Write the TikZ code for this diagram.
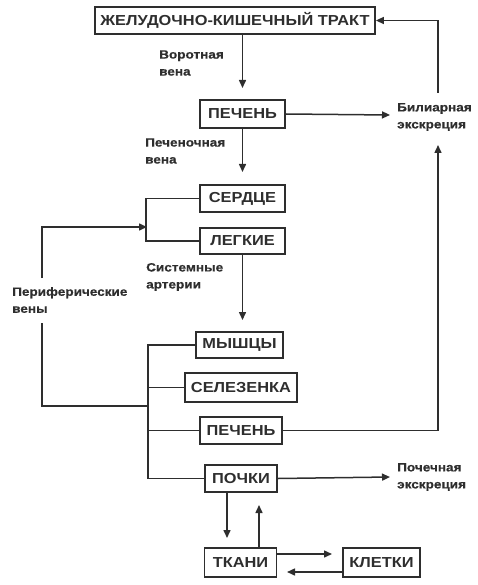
\documentclass[tikz,border=0pt]{standalone}
\usepackage{fontspec}
\setmainfont{Liberation Sans}[FakeStretch=1.13]
\newfontfamily\lblfont{Liberation Sans}[FakeStretch=1.13, BoldFeatures={FakeBold=0.5}]
\usetikzlibrary{arrows.meta}
\definecolor{ink}{HTML}{2E2E2E}
\tikzset{
  box/.style={draw=ink, line width=1.8pt, text=ink, font=\fontsize{14.5}{16}\selectfont\bfseries, inner sep=0pt, align=center},
  lbl/.style={text=ink, font=\lblfont\fontsize{12}{17}\selectfont\bfseries, align=left, anchor=west, inner sep=0pt},
  conn/.style={draw=ink, line width=1.5pt},
  arr/.style={conn, -{Triangle[length=8pt,width=7pt]}}
}
\begin{document}
\begin{tikzpicture}[x=1pt,y=-1pt]
\useasboundingbox (0,0) rectangle (478,585);
% boxes
\node[box, minimum width=280, minimum height=27] (zkt) at (235,20.5) {ЖЕЛУДОЧНО-КИШЕЧНЫЙ ТРАКТ};
\node[box, minimum width=85, minimum height=28] (p1) at (242.5,114) {ПЕЧЕНЬ};
\node[box, minimum width=85, minimum height=27] (serd) at (242.5,198.5) {СЕРДЦЕ};
\node[box, minimum width=85, minimum height=26] (leg) at (242.5,241) {ЛЕГКИЕ};
\node[box, minimum width=87, minimum height=26] (mysh) at (239.5,345) {МЫШЦЫ};
\node[box, minimum width=112, minimum height=29] (sel) at (241,387.5) {СЕЛЕЗЕНКА};
\node[box, minimum width=82, minimum height=27] (p2) at (241,430.5) {ПЕЧЕНЬ};
\node[box, minimum width=72, minimum height=27] (poch) at (241,478.5) {ПОЧКИ};
\node[box, minimum width=72, minimum height=29] (tkan) at (240.5,562.5) {ТКАНИ};
\node[box, minimum width=77, minimum height=29] (klet) at (381.5,562.5) {КЛЕТКИ};
% labels
\node[lbl] (vor) at (159,63) {Воротная\\вена};
\node[lbl] (pecv) at (145,151) {Печеночная\\вена};
\node[lbl] (bil) at (397,117) {Билиарная\\экскреция};
\node[lbl] (sis) at (146,277) {Системные\\артерии};
\node[lbl] (per) at (12,300) {Периферические\\вены};
\node[lbl] (poce) at (397,477) {Почечная\\экскреция};
% coordinates
\coordinate (a1) at (242.5,88);
\coordinate (a2) at (242.5,172);
\coordinate (a3) at (242.5,320);
\coordinate (b1) at (390,115);
\coordinate (b2) at (390,477);
\coordinate (r1) at (438,93);
\coordinate (r2) at (438,145);
\coordinate (bk1) at (147,227);
\coordinate (pv1) at (42,278);
\coordinate (pv2) at (42,323);
\coordinate (bk2) at (148,406);
\coordinate (d1) at (227,538);
\coordinate (u1) at (259,505);
\coordinate (t1) at (332,554);
\coordinate (t2) at (287,572);
% connectors
\draw[arr] (zkt.south -| a1) -- (a1);
\draw[arr] (p1.east) -- (b1);
\draw[arr] (r1) |- (zkt.east);
\draw[arr] (p2.east) -| (r2);
\draw[arr] (p1.south) -- (a2);
\draw[conn] (serd.west) -- ++(-53,0) |- (leg.west);
\draw[arr] (pv1) |- (bk1);
\draw[conn] (pv2) |- (bk2);
\draw[arr] (leg.south) -- (a3);
\draw[conn] (mysh.west) -- (mysh.west -| bk2) |- (poch.west);
\draw[conn] (sel.west) -- (sel.west -| bk2);
\draw[conn] (p2.west) -- (p2.west -| bk2);
\draw[arr] (poch.east) -- (b2);
\draw[arr] (poch.south -| d1) -- (d1);
\draw[arr] (tkan.north -| u1) -- (u1);
\draw[arr] (tkan.east |- t1) -- (t1);
\draw[arr] (klet.west |- t2) -- (t2);
\end{tikzpicture}
\end{document}
